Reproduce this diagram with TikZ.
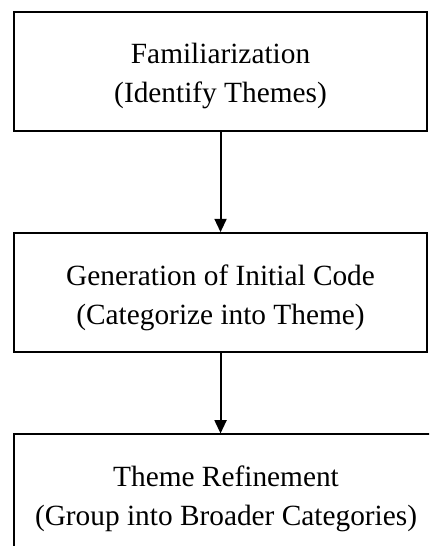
\documentclass[tikz,border=0pt]{standalone}
\usepackage{fontspec}
\setmainfont{Liberation Serif}
\usetikzlibrary{arrows.meta,positioning}
\newcommand{\topgap}{\rule{0pt}{22.5pt}}

\begin{document}
\begin{tikzpicture}[
  node distance=75pt, >={Triangle[length=10pt,width=9pt]},
  stagebox/.style={draw=black, line width=1.5pt, align=center,
                   minimum width=309.75pt, minimum height=89.5pt, inner sep=0pt,
                   font=\fontsize{22pt}{29.25pt}\selectfont},
  flow/.style={->, line width=1.5pt}]
\clip (0,0) rectangle (321.75pt,-409.5pt);
\node[stagebox] (fam) at (165.4pt,-53.6pt) {\topgap Familiarization\\(Identify Themes)};
\node[stagebox, below=of fam] (gen) {\topgap Generation of Initial Code\\(Categorize into Theme)};
\node[stagebox, minimum width=318pt, below right=60pt and 0pt of gen.south west] (ref) {\topgap Theme Refinement\\(Group into Broader Categories)};
\draw[flow] (fam) -- (gen);
\draw[flow] (gen) -- (gen.south |- ref.north);
\end{tikzpicture}
\end{document}
